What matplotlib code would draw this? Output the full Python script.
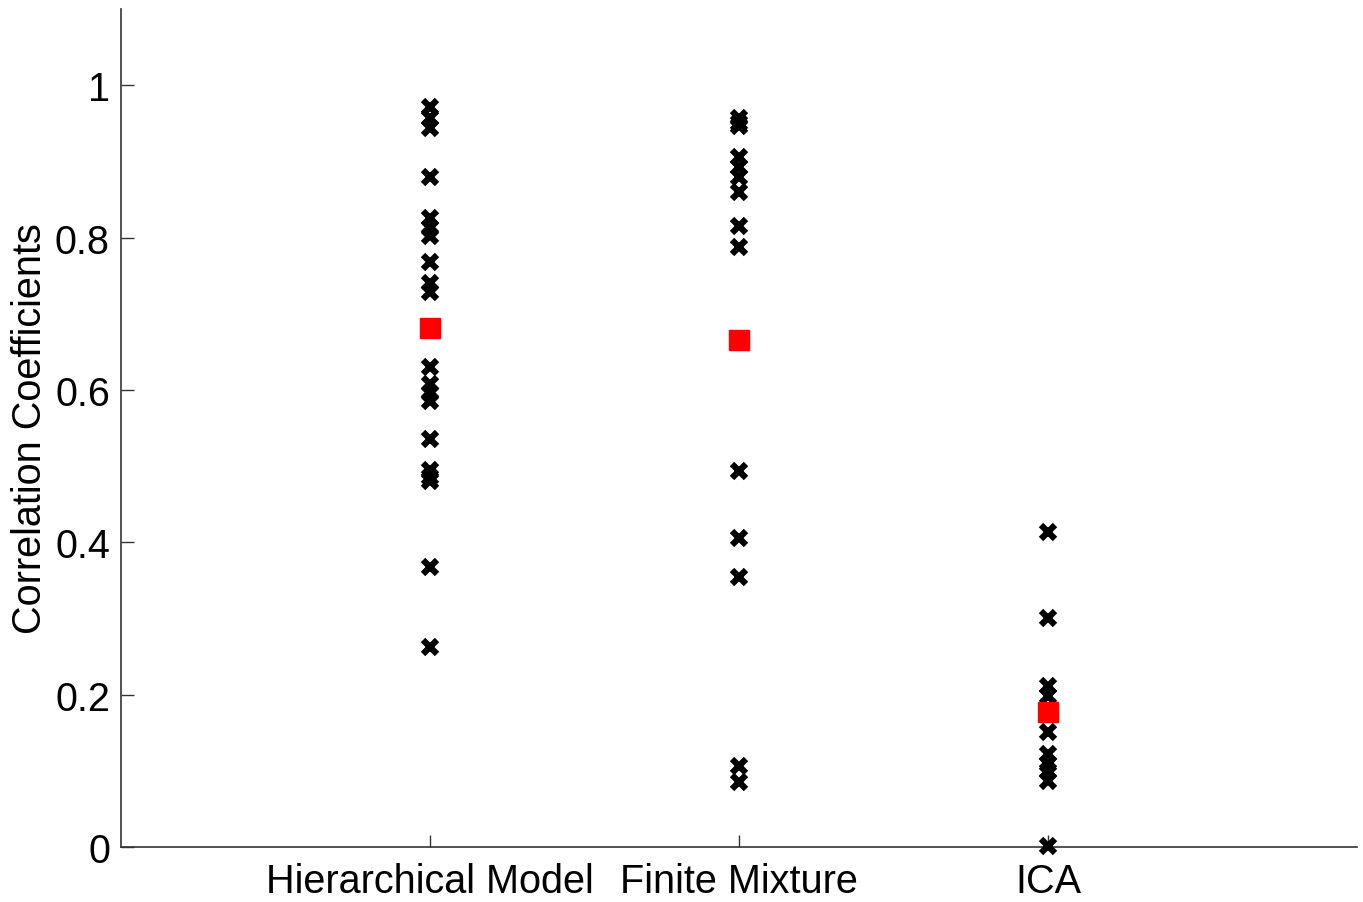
import numpy as np
import matplotlib.pyplot as plt

plt.rcParams['font.family'] = ['Liberation Sans', 'DejaVu Sans']

methods = ['Hierarchical Model', 'Finite Mixture', 'ICA']

hier_corr = [0.972, 0.957, 0.944, 0.880, 0.826, 0.813, 0.802, 0.768, 0.740,
             0.729, 0.630, 0.608, 0.596, 0.586, 0.535, 0.495, 0.486, 0.481,
             0.368, 0.262]
mix_corr = [0.957, 0.950, 0.946, 0.906, 0.893, 0.880, 0.860, 0.815, 0.788,
            0.494, 0.406, 0.354, 0.106, 0.085]
ica_corr = [0.413, 0.301, 0.212, 0.198, 0.151, 0.122, 0.109, 0.100, 0.087,
            0.001]

mean_corr = [0.681, 0.666, 0.177]

yticks = [0, 0.2, 0.4, 0.6, 0.8, 1]
ytick_labels = ['0', '0.2', '0.4', '0.6', '0.8', '1']

fig = plt.figure(figsize=(13.63, 9.03), dpi=100)
ax = fig.add_axes([0.0888, 0.0609, 0.9068, 0.928])

for i, vals in enumerate([hier_corr, mix_corr, ica_corr]):
    xs = np.full(len(vals), i + 1)
    ax.plot(xs, vals, linestyle='none', marker='x', color='black',
            markersize=10, markeredgewidth=4.5, zorder=3, clip_on=False)
ax.plot(np.arange(1, 4), mean_corr, linestyle='none', marker='s',
        color='red', markersize=15, zorder=4, clip_on=False)

ax.set_xlim(0, 4)
ax.set_ylim(0, 1.1)
ax.set_xticks(np.arange(1, 4))
ax.set_xticklabels(methods, fontsize=28.5)
ax.set_yticks(yticks)
ax.set_yticklabels(ytick_labels, fontsize=28.5)
ax.set_ylabel('Correlation Coefficients', fontsize=28.5, labelpad=4)

for side in ['top', 'right']:
    ax.spines[side].set_visible(False)
for side in ['left', 'bottom']:
    ax.spines[side].set_color('#333333')
    ax.spines[side].set_linewidth(1.2)
ax.tick_params(direction='in', length=9, width=1, color='#333333')
ax.tick_params(axis='x', pad=11)
ax.tick_params(axis='y', pad=8)

fig.savefig('out.png', dpi=100)
